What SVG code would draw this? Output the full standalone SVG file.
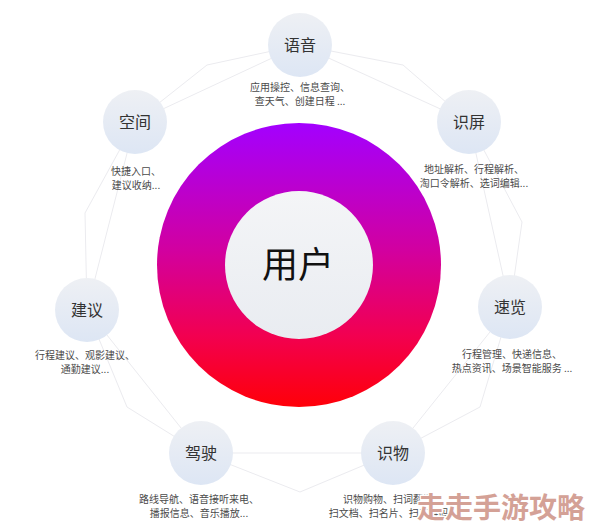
<svg xmlns="http://www.w3.org/2000/svg" width="594" height="528" viewBox="0 0 594 528">
<defs>
<linearGradient id="ringG" x1="0" y1="0" x2="0" y2="1">
<stop offset="0" stop-color="#a300ff"/>
<stop offset="0.45" stop-color="#d2009f"/>
<stop offset="0.75" stop-color="#f20050"/>
<stop offset="1" stop-color="#ff0008"/>
</linearGradient>
<linearGradient id="innerG" x1="0" y1="0" x2="0" y2="1">
<stop offset="0" stop-color="#f4f5f7"/>
<stop offset="1" stop-color="#e9ecf1"/>
</linearGradient>
<linearGradient id="nodeG" x1="0" y1="0" x2="0" y2="1">
<stop offset="0" stop-color="#eef0f4"/>
<stop offset="1" stop-color="#dde6f4"/>
</linearGradient>
<style>
.web{fill:none;stroke:#ebebef;stroke-width:1}
.sat{fill:url(#nodeG)}
.lbl{font-family:"Noto Sans CJK SC","Noto Sans",sans-serif;font-size:16px;fill:#333;text-anchor:middle}
.desc{font-family:"Noto Sans CJK SC","Noto Sans",sans-serif;font-size:10px;fill:#4a4a4a;text-anchor:middle}
</style>
</defs>
<rect width="594" height="528" fill="#ffffff"/>
<g id="connectors" class="web">
<polygon points="300,45 469,122 510,307 393,453 201,453 87,310 135,122"/>
<polyline points="300,45 403,65 469,122 522,222 510,307 480,407 393,453 300,492 201,453 127,407 87,310 85,213 135,122 207,65 300,45"/>
</g>
<g id="user">
<circle cx="299" cy="265" r="142" fill="url(#ringG)"/>
<circle cx="299" cy="265" r="74" fill="url(#innerG)"/>
<text x="298" y="278" font-family="'Noto Sans CJK SC','Noto Sans',sans-serif" font-size="36" fill="#111" text-anchor="middle">用户</text>
</g>
<g id="voice">
<circle class="sat" cx="300" cy="45" r="32"/>
<text class="lbl" x="300" y="51">语音</text>
<text class="desc" x="300" y="91">应用操控、信息查询、</text>
<text class="desc" x="300" y="105">查天气、创建日程 ...</text>
</g>
<g id="space">
<circle class="sat" cx="135" cy="122" r="32"/>
<text class="lbl" x="135" y="128">空间</text>
<text class="desc" x="136" y="175">快捷入口、</text>
<text class="desc" x="136" y="189">建议收纳...</text>
</g>
<g id="screen">
<circle class="sat" cx="469" cy="122" r="32"/>
<text class="lbl" x="469" y="128">识屏</text>
<text class="desc" x="474" y="173">地址解析、行程解析、</text>
<text class="desc" x="474" y="187">淘口令解析、选词编辑...</text>
</g>
<g id="suggest">
<circle class="sat" cx="87" cy="310" r="32"/>
<text class="lbl" x="87" y="316">建议</text>
<text class="desc" x="85" y="359">行程建议、观影建议、</text>
<text class="desc" x="85" y="373">通勤建议...</text>
</g>
<g id="glance">
<circle class="sat" cx="510" cy="307" r="32"/>
<text class="lbl" x="510" y="313">速览</text>
<text class="desc" x="512" y="358">行程管理、快递信息、</text>
<text class="desc" x="512" y="372">热点资讯、场景智能服务 ...</text>
</g>
<g id="drive">
<circle class="sat" cx="201" cy="453" r="32"/>
<text class="lbl" x="201" y="459">驾驶</text>
<text class="desc" x="199" y="503">路线导航、语音接听来电、</text>
<text class="desc" x="199" y="517">播报信息、音乐播放...</text>
</g>
<g id="object">
<circle class="sat" cx="393" cy="453" r="32"/>
<text class="lbl" x="393" y="459">识物</text>
<text class="desc" x="393" y="503">识物购物、扫词翻译、</text>
<text class="desc" x="393" y="517">扫文档、扫名片、扫二维码...</text>
</g>
<text x="501" y="518" font-family="'Noto Sans CJK SC',sans-serif" font-size="28" font-weight="bold" fill="#d4a196" stroke="#ffffff" stroke-width="3" stroke-linejoin="round" paint-order="stroke" text-anchor="middle">走走手游攻略</text>
</svg>
